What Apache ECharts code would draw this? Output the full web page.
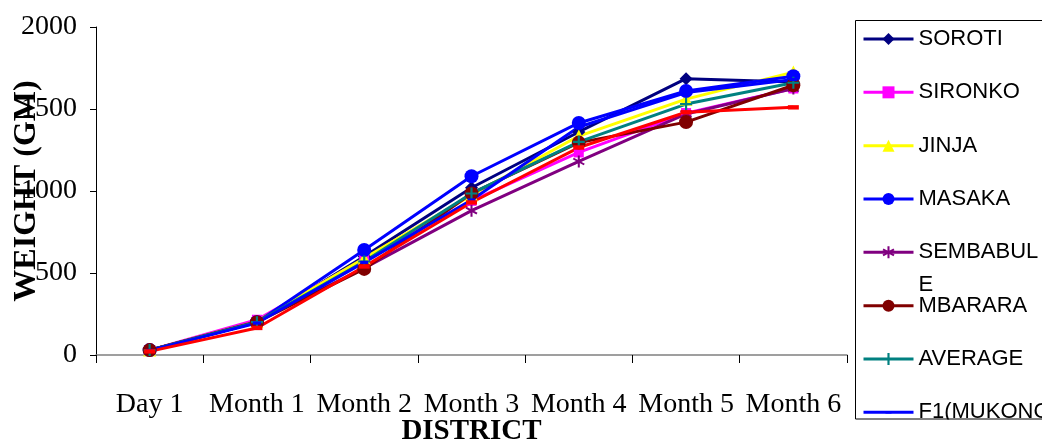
<!DOCTYPE html>
<html>
<head>
<meta charset="utf-8">
<title>Weight by district</title>
<script src="https://cdn.jsdelivr.net/npm/echarts@6/dist/echarts.min.js"></script>
<style>
  html, body { margin: 0; padding: 0; background: #ffffff; }
  #chart { width: 1042px; height: 440px; }
</style>
</head>
<body>
<div id="chart"></div>
<script>
// Sampling points along the x axis
const categories = ['Day 1', 'Month 1', 'Month 2', 'Month 3', 'Month 4', 'Month 5', 'Month 6'];

// Mean weight (g) per district at each sampling point
const soroti    = [30, 200, 600, 1020, 1360, 1685, 1665];
const sironko   = [30, 215, 585, 940, 1235, 1475, 1625];
const jinja     = [30, 205, 590, 975, 1335, 1560, 1725];
const masaka    = [30, 200, 640, 1090, 1415, 1610, 1700];
const sembabule = [30, 205, 530, 880, 1180, 1470, 1625];
const mbarara   = [30, 200, 525, 985, 1295, 1420, 1645];
const average   = [30, 200, 570, 985, 1300, 1530, 1660];
const f1Mukono  = [28, 195, 565, 945, 1390, 1600, 1680];
const f2Mukono  = [22, 165, 540, 930, 1265, 1480, 1510];

// Value axis range
const yMin = 0;
const yMax = 2000;
const yStep = 500;

// Marker shapes
const plusPath = 'path://M4.1,0h1.8v10h-1.8zM0,4.1h10v1.8h-10z';
const starPath = 'path://M4.2,0h1.6v10h-1.6zM1.1,1.81L9.7,6.81L8.9,8.19L0.3,3.19zM0.3,6.81L8.9,1.81L9.7,3.19L1.1,8.19z';
// short bar centred in a square frame, so it keeps its shape at any square size
const dashPath = 'path://M0,0M20,20M5,8h10v4h-10z';

const serif = 'Liberation Serif';
const sans = 'Liberation Sans';

function lineSeries(name, data, color, symbol, size) {
  return {
    name: name,
    type: 'line',
    data: data,
    symbol: symbol,
    symbolSize: size,
    showAllSymbol: true,
    lineStyle: { color: color, width: 3 },
    itemStyle: { color: color, borderWidth: 0 },
    emphasis: { disabled: true }
  };
}

const series = [
  lineSeries('SOROTI', soroti, '#000080', 'diamond', 13),
  lineSeries('SIRONKO', sironko, '#FF00FF', 'rect', 10),
  lineSeries('JINJA', jinja, '#FFFF00', 'triangle', 13),
  lineSeries('MASAKA', masaka, '#0000FF', 'circle', 14),
  lineSeries('SEMBABULE', sembabule, '#800080', starPath, 12),
  lineSeries('MBARARA', mbarara, '#800000', 'circle', 14),
  lineSeries('AVERAGE', average, '#008080', plusPath, 12),
  lineSeries('F1(MUKONO)', f1Mukono, '#0000FF', dashPath, 16),
  lineSeries('F2(MUKONO)', f2Mukono, '#FF0000', dashPath, 22)
];

const legendNames = ['SOROTI', 'SIRONKO', 'JINJA', 'MASAKA', 'SEMBABULE', 'MBARARA', 'AVERAGE', 'F1(MUKONO)'];

const chart = echarts.init(document.getElementById('chart'), null, { renderer: 'canvas' });

chart.setOption({
  animation: false,
  backgroundColor: '#ffffff',
  grid: { left: 96, right: 195, top: 27, bottom: 85, containLabel: false, outerBoundsMode: 'none' },
  xAxis: {
    type: 'category',
    data: categories,
    boundaryGap: true,
    name: 'DISTRICT',
    nameLocation: 'middle',
    nameGap: 62,
    nameMoveOverlap: false,
    nameTextStyle: { fontFamily: serif, fontWeight: 'bold', fontSize: 29, color: '#000' },
    axisLine: { show: true, lineStyle: { color: '#808080', width: 1.5 } },
    axisTick: { show: true, alignWithLabel: false, length: 8, lineStyle: { color: '#000', width: 1 } },
    axisLabel: { interval: 0, margin: 36, fontFamily: serif, fontSize: 28, color: '#000' },
    splitLine: { show: false }
  },
  yAxis: {
    type: 'value',
    min: yMin,
    max: yMax,
    interval: yStep,
    name: 'WEIGHT (GM)',
    nameLocation: 'middle',
    nameGap: 53,
    nameRotate: 90,
    nameMoveOverlap: false,
    nameTextStyle: { fontFamily: serif, fontWeight: 'bold', fontSize: 32, color: '#000' },
    axisLine: { show: true, lineStyle: { color: '#000', width: 1 } },
    axisTick: { show: true, length: 6, lineStyle: { color: '#000', width: 1 } },
    axisLabel: {
      margin: 19, fontFamily: serif, fontSize: 28, color: '#000',
      formatter: function (v) { return String(v); }
    },
    splitLine: { show: false }
  },
  legend: {
    orient: 'vertical',
    left: 862,
    top: -10.5,
    height: 800,
    padding: 0,
    itemGap: -45.67,
    itemWidth: 50,
    itemHeight: 15,
    selectedMode: false,
    data: legendNames,
    lineStyle: { width: 3 },
    formatter: function (name) {
      return name === 'SEMBABULE' ? '\nSEMBABUL\nE' : '\n' + name + '\n';
    },
    textStyle: { fontFamily: sans, fontSize: 22, color: '#000', lineHeight: 33 }
  },
  graphic: [
    {
      type: 'rect',
      z: 100,
      shape: { x: 856, y: 419.5, width: 190, height: 25 },
      style: { fill: '#ffffff', stroke: null }
    },
    {
      type: 'rect',
      z: 101,
      shape: { x: 855.5, y: 20.5, width: 200, height: 398.5 },
      style: { fill: null, stroke: '#000', lineWidth: 1 }
    }
  ],
  series: series
});
</script>
</body>
</html>
